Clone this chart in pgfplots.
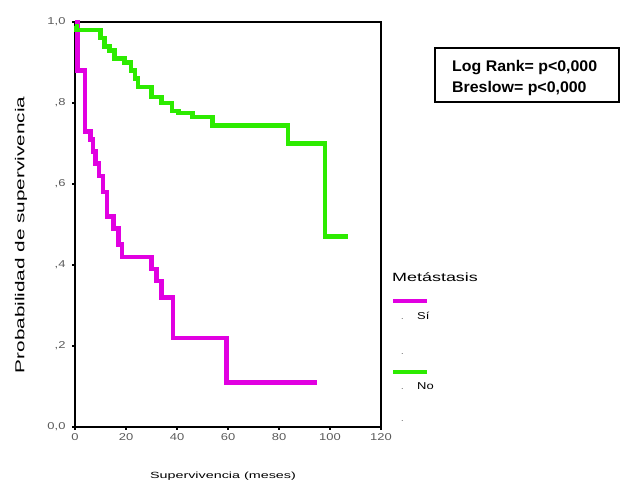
\documentclass[border=0pt]{standalone}
\usepackage{fontspec}
\setmainfont{Liberation Sans}
\usepackage{pgfplots}
\pgfplotsset{compat=1.18}
\definecolor{siCol}{RGB}{225,0,225}
\definecolor{noCol}{RGB}{45,235,0}
\definecolor{tickgray}{RGB}{90,90,90}
\newcommand{\tl}[1]{\scalebox{1.3}[1]{#1}}
\begin{document}
\begin{tikzpicture}[x=1bp,y=1bp]
\path[use as bounding box] (0,0) rectangle (641,488);
\begin{axis}[
  at={(75bp,61bp)}, anchor=south west,
  scale only axis, width=306bp, height=405bp,
  xmin=0, xmax=120, ymin=0, ymax=1,
  xtick={0,20,40,60,80,100,120},
  xticklabels={\tl{0},\tl{20},\tl{40},\tl{60},\tl{80},\tl{100},\tl{120}},
  ytick={0,0.2,0.4,0.6,0.8,1},
  yticklabels={\tl{0,0},\tl{,2},\tl{,4},\tl{,6},\tl{,8},\tl{1,0}},
  tick pos=left, tick align=outside, major tick length=3bp,
  axis line style={line width=1.4bp},
  tick style={line width=1.4bp, black},
  tick label style={font=\fontsize{10}{10}\selectfont, text=tickgray},
  yticklabel style={xshift=-3bp},
  clip=false,
]
% Si
\addplot[const plot mark left, siCol, line width=4.5bp] coordinates {
(0,1.0) (1,0.88) (4,0.73) (6,0.71) (7,0.68) (8,0.65) (9.5,0.62) (11,0.58)
(12.5,0.52) (15,0.49) (17,0.45) (18.5,0.42) (30,0.39) (32,0.36) (34,0.32)
(38.5,0.22) (59.5,0.11) (95,0.11)
};
% No
\addplot[const plot mark left, noCol, line width=4.5bp] coordinates {
(0,0.99) (0.5,0.98) (10,0.96) (11.5,0.94) (13.5,0.93) (15.5,0.91) (19.5,0.90)
(22,0.88) (23.5,0.86) (24.7,0.84) (30,0.815) (34,0.80) (38,0.78) (40.5,0.775)
(46,0.765) (54,0.745) (83.5,0.70) (98,0.47) (107,0.47)
};
\end{axis}
% axis titles
\node[rotate=90] at (21,253) {\scalebox{1.6}[1]{\fontsize{13}{13}\selectfont Probabilidad de supervivencia}};
\node at (223,12) {\scalebox{1.6}[1]{\fontsize{9}{9}\selectfont Supervivencia (meses)}};
% legend
\node[anchor=base west, inner sep=0pt] at (392,206) {\scalebox{1.5}[1]{\fontsize{12}{12}\selectfont Metástasis}};
\draw[siCol, line width=4.5bp] (393,187) -- (427,187);
\node[anchor=base west, inner sep=0pt, text=tickgray] at (401,168) {\fontsize{9}{9}\selectfont .};
\node[anchor=base west, inner sep=0pt] at (417,168) {\scalebox{1.3}[1]{\fontsize{10}{10}\selectfont Sí}};
\node[anchor=base west, inner sep=0pt, text=tickgray] at (401,133) {\fontsize{9}{9}\selectfont .};
\draw[noCol, line width=4.5bp] (393,116) -- (427,116);
\node[anchor=base west, inner sep=0pt, text=tickgray] at (401,98) {\fontsize{9}{9}\selectfont .};
\node[anchor=base west, inner sep=0pt] at (417,98) {\scalebox{1.3}[1]{\fontsize{10}{10}\selectfont No}};
\node[anchor=base west, inner sep=0pt, text=tickgray] at (401,66) {\fontsize{9}{9}\selectfont .};
% test box
\draw[line width=1.4bp] (435,386) rectangle (619,440);
\node[anchor=base west, inner sep=0pt] at (452,416) {\scalebox{1.03}[1]{\fontsize{15.5}{15.5}\selectfont\bfseries Log Rank= p<0,000}};
\node[anchor=base west, inner sep=0pt] at (452,395) {\scalebox{1.03}[1]{\fontsize{15.5}{15.5}\selectfont\bfseries Breslow= p<0,000}};
\end{tikzpicture}
\end{document}
